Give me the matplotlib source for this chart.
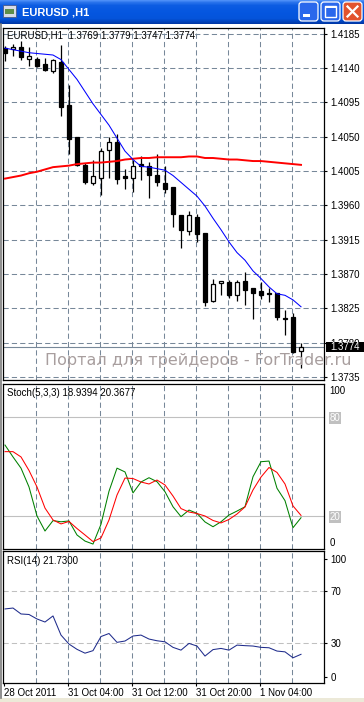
import matplotlib
matplotlib.use('Agg')
import numpy as np
import matplotlib.pyplot as plt
from matplotlib.patches import Rectangle, FancyBboxPatch
from matplotlib.lines import Line2D
from matplotlib.transforms import blended_transform_factory

plt.rcParams['font.family'] = ['Liberation Sans', 'DejaVu Sans']

W, H = 364, 702

# EURUSD H1 candles (bar index 0..37)
opens = [1.4166, 1.4165, 1.4168, 1.4152, 1.4152, 1.4145, 1.4136, 1.4148, 1.4091, 1.4049,
         1.4013, 1.3989, 1.3996, 1.4032, 1.4043, 1.3998, 1.3996, 1.4014, 1.4012, 1.4000,
         1.3989, 1.3984, 1.3947, 1.3926, 1.3945, 1.3924, 1.3835, 1.3858, 1.3860, 1.3843,
         1.3861, 1.3852, 1.3848, 1.3845, 1.3845, 1.3812, 1.3813, 1.3769]
highs = [1.4169, 1.4172, 1.4175, 1.4167, 1.4155, 1.4153, 1.4152, 1.4170, 1.4118, 1.4049,
         1.4015, 1.4020, 1.4035, 1.4050, 1.4053, 1.4007, 1.4019, 1.4024, 1.4017, 1.4027,
         1.4011, 1.3984, 1.3947, 1.3953, 1.3948, 1.3924, 1.3864, 1.3861, 1.3862, 1.3862,
         1.3872, 1.3852, 1.3860, 1.3852, 1.3845, 1.3823, 1.3819, 1.3779]
lows = [1.4149, 1.4156, 1.4150, 1.4142, 1.4141, 1.4136, 1.4134, 1.4077, 1.4027, 1.4012,
        1.3988, 1.3986, 1.3973, 1.3996, 1.3988, 1.3982, 1.3977, 1.3993, 1.3969, 1.3985,
        1.3976, 1.3932, 1.3904, 1.3921, 1.3912, 1.3828, 1.3833, 1.3843, 1.3838, 1.3835,
        1.3829, 1.3811, 1.3837, 1.3833, 1.3809, 1.3790, 1.3767, 1.3747]
closes = [1.4160, 1.4168, 1.4154, 1.4156, 1.4143, 1.4138, 1.4150, 1.4089, 1.4047, 1.4013,
          1.3990, 1.3998, 1.4031, 1.4043, 1.3994, 1.3996, 1.4011, 1.4011, 1.4000, 1.3990,
          1.3982, 1.3948, 1.3927, 1.3947, 1.3922, 1.3833, 1.3857, 1.3861, 1.3843, 1.3860,
          1.3849, 1.3845, 1.3843, 1.3844, 1.3814, 1.3811, 1.3768, 1.3774]

ma_fast = [1.4166, 1.4164, 1.4162, 1.4160, 1.4159, 1.4158, 1.4157, 1.4151, 1.4138, 1.4125,
           1.4109, 1.4093, 1.4079, 1.4065, 1.4048, 1.4031, 1.4020, 1.4011, 1.4010, 1.4008,
           1.4006, 1.3999, 1.3990, 1.3981, 1.3972, 1.3959, 1.3943, 1.3928, 1.3912, 1.3898,
           1.3888, 1.3874, 1.3864, 1.3853, 1.3844, 1.3842, 1.3836, 1.3827]
ma_slow = [1.3995, 1.3997, 1.3999, 1.4002, 1.4004, 1.4007, 1.4010, 1.4011, 1.4012, 1.4014,
           1.4015, 1.4016, 1.4016, 1.4017, 1.4018, 1.4020, 1.4021, 1.4022, 1.4022, 1.4023,
           1.4023, 1.4023, 1.4023, 1.4024, 1.4024, 1.4022, 1.4022, 1.4021, 1.4020, 1.4020,
           1.4019, 1.4018, 1.4018, 1.4017, 1.4016, 1.4015, 1.4014, 1.4013]

stoch_k = [63.0, 55.8, 49.0, 37.6, 20.0, 10.9, 17.2, 16.5, 17.0, 8.5,
           4.8, 3.0, 15.0, 35.0, 49.0, 46.7, 34.0, 40.6, 43.2, 40.8,
           34.7, 25.6, 19.6, 23.6, 21.6, 16.4, 13.5, 16.5, 20.6, 23.0,
           25.6, 43.8, 52.9, 53.3, 36.8, 29.3, 12.9, 18.94]
stoch_d = [59.0, 59.0, 55.8, 47.6, 37.6, 24.8, 17.6, 15.2, 16.7, 12.4,
           8.5, 4.5, 6.7, 17.6, 32.7, 43.0, 42.7, 40.6, 39.4, 41.8,
           38.8, 32.1, 24.5, 22.4, 21.5, 20.0, 17.3, 15.8, 17.9, 21.2,
           25.5, 35.8, 43.6, 49.4, 46.4, 39.4, 26.1, 20.37]
rsi = [56.1, 56.8, 52.3, 51.9, 48.5, 46.2, 50.8, 36.3, 29.5, 25.5,
       22.6, 24.5, 35.2, 37.5, 30.8, 31.8, 35.6, 36.3, 33.3, 32.0,
       31.2, 27.0, 24.9, 30.0, 28.0, 20.4, 25.3, 26.2, 24.9, 28.7,
       28.3, 28.0, 27.0, 26.7, 24.2, 23.6, 19.1, 21.73]

price_ticks = [1.4185, 1.4140, 1.4095, 1.4050, 1.4005, 1.3960, 1.3915, 1.3870, 1.3825, 1.3780, 1.3735]
last_price = 1.3774
date_bars = [0, 8, 16, 24, 32]
date_labels = ['28 Oct 2011', '31 Oct 04:00', '31 Oct 12:00', '31 Oct 20:00', '1 Nov 04:00']
grid_bars = [4, 8, 12, 16, 20, 24, 28, 32, 36]

idx = np.arange(len(opens))
GRID = '#778899'


def px_axes(x0, y0, x1, y1):
    return fig.add_axes([x0 / W, 1 - y1 / H, (x1 - x0) / W, (y1 - y0) / H])


def style_panel(a):
    a.set_xlim(-0.25, 39.875)
    for s in a.spines.values():
        s.set_color('black')
        s.set_linewidth(0.9)
    for b in grid_bars:
        a.axvline(b - 0.125, color=GRID, lw=0.75, ls=(0, (5, 3)), zorder=1)
    a.yaxis.tick_right()
    a.tick_params(axis='y', direction='out', length=2.2, width=0.8, pad=2.5,
                  labelsize=7, colors='black')


fig = plt.figure(figsize=(W / 100, H / 100), dpi=100)
fig.patch.set_facecolor('white')

# ---- window title bar ----
tb = fig.add_axes([0, 1 - 24 / H, 1, 24 / H])
rows = np.interp(np.arange(24), [0, 2, 5, 18, 23], [0.0, 0.25, 0.45, 0.55, 1.0])
c_top = np.array([0.30, 0.56, 0.97])
c_mid = np.array([0.02, 0.34, 0.88])
c_bot = np.array([0.00, 0.22, 0.66])
grad = np.array([c_top + (c_mid - c_top) * min(r / 0.5, 1) if r <= 0.5
                 else c_mid + (c_bot - c_mid) * (r - 0.5) / 0.5 for r in rows])
tb.imshow(grad[:, None, :].repeat(W, axis=1), aspect='auto', extent=[0, W, 24, 0])
tb.set_xlim(0, W)
tb.set_ylim(24, 0)
tb.axis('off')
tb.add_patch(Rectangle((3, 5), 13, 12, fc='#D8DCE8', ec='#4A5A8A', lw=0.6))
tb.add_patch(Rectangle((5, 9), 9, 5, fc='#5E8E4A', ec='none'))
tb.text(22, 12.5, 'EURUSD ,H1', color='white', fontsize=8, fontweight='bold', va='center', ha='left')
for bx, fc in [(299, '#2A68EC'), (321, '#2A68EC'), (343, '#E2532E')]:
    tb.add_patch(FancyBboxPatch((bx, 2), 19, 19, boxstyle='round,pad=0,rounding_size=3',
                                fc=fc, ec='white', lw=0.9))
tb.add_patch(Rectangle((303, 14), 7, 2.5, fc='white', ec='none'))
tb.add_patch(Rectangle((325, 6), 11, 11, fc='none', ec='white', lw=1.0))
tb.add_patch(Rectangle((325, 6), 11, 2, fc='white', ec='none'))
tb.plot([347.5, 357.5], [6.5, 16.5], color='white', lw=1.6)
tb.plot([347.5, 357.5], [16.5, 6.5], color='white', lw=1.6)

# ---- main price panel ----
ax = px_axes(3, 28, 324, 380)
style_panel(ax)
ax.set_ylim(1.37310, 1.41924)
ax.set_xticks([])
ax.set_yticks(price_ticks)
ax.set_yticklabels([f'{p:.4f}' for p in price_ticks])
for p in price_ticks:
    ax.axhline(p, color=GRID, lw=0.75, ls=(0, (5, 3)), zorder=1)
ax.axhline(last_price, color=GRID, lw=0.8, zorder=2)

ax.vlines(idx, lows, highs, color='black', lw=0.9, zorder=3)
bottoms = np.minimum(opens, closes)
heights = np.abs(np.array(closes) - np.array(opens))
fills = ['white' if c > o else 'black' for o, c in zip(opens, closes)]
ax.bar(idx, heights, bottom=bottoms, width=0.5, color=fills, edgecolor='black', lw=0.9, zorder=4)
ax.plot(idx, ma_slow, color='#FF0000', lw=1.4, zorder=5)
ax.plot(idx, ma_fast, color='#0000FF', lw=0.75, zorder=5)

bt = blended_transform_factory(ax.transAxes, ax.transData)
box_h = 10 / 7466.7
ax.add_patch(Rectangle((1.0062, last_price - box_h / 2), (W - 326) / 321, box_h,
                       transform=bt, fc='black', ec='none', clip_on=False, zorder=10))
ax.text(1.0187, last_price, f'{last_price:.4f}', transform=bt, color='white', fontsize=7,
        va='center', ha='left', zorder=11, clip_on=False)
fig.text(7 / W, 1 - 36 / H, 'EURUSD,H1  1.3769 1.3779 1.3747 1.3774', fontsize=7,
         va='center', ha='left')

# ---- stochastic panel ----
sx = px_axes(3, 384, 324, 549)
style_panel(sx)
sx.set_ylim(0, 100)
sx.set_xticks([])
sx.axhline(80, color='#C0C0C0', lw=0.8, zorder=1)
sx.axhline(20, color='#C0C0C0', lw=0.8, zorder=1)
sx.plot(idx, stoch_k, color='#008000', lw=0.75, zorder=3)
sx.plot(idx, stoch_d, color='#FF0000', lw=0.75, zorder=4)
sx.set_yticks([96.4, 80, 20, 4.2])
sx.set_yticklabels(['100', '80', '20', '0'])
sx.tick_params(axis='y', length=0, pad=4)
for lab in sx.get_yticklabels()[1:3]:
    lab.set_color('white')
    lab.set_bbox(dict(facecolor='#C0C0C0', edgecolor='none', pad=0.6))
fig.text(7 / W, 1 - 393 / H, 'Stoch(5,3,3) 18.9394 20.3677', fontsize=7, va='center', ha='left')

# ---- RSI panel ----
rx = px_axes(3, 551, 324, 683)
style_panel(rx)
rx.set_ylim(0, 100)
rx.axhline(70, color='#C0C0C0', lw=0.75, ls=(0, (5, 3)), zorder=1)
rx.axhline(30, color='#C0C0C0', lw=0.75, ls=(0, (5, 3)), zorder=1)
rx.plot(idx, rsi, color='#1F2C8C', lw=0.75, zorder=3)
rx.set_yticks([94, 70, 30, 4.4])
rx.set_yticklabels(['100', '70', '30', '0'])
rx.set_xticks([b - 0.125 for b in date_bars])
rx.set_xticklabels(date_labels, ha='left')
rx.tick_params(axis='x', direction='out', length=2.5, width=0.8, pad=1, labelsize=7)
fig.text(7 / W, 1 - 561 / H, 'RSI(14) 21.7300', fontsize=7, va='center', ha='left')

# watermark, window edges
fig.text(45 / W, 1 - 361 / H, 'Портал для трейдеров - ForTrader.ru', fontsize=11.5,
         color='#A89E9E', family='DejaVu Sans', va='center', ha='left', zorder=20)
fig.add_artist(Rectangle((0, 0), 1, 4 / H, transform=fig.transFigure, fc='#ECE9D8', ec='none'))
fig.add_artist(Line2D([1.2 / W, 1.2 / W], [4 / H, 1 - 24 / H], color='#7A7A7A', lw=1.2))

fig.savefig('out.png', dpi=100)
